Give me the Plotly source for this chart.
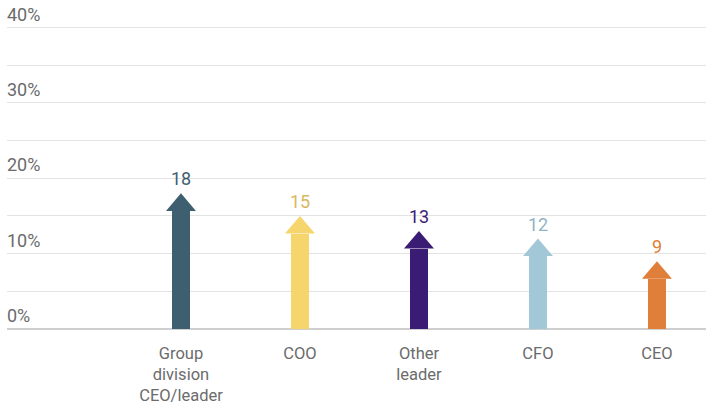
import plotly.graph_objects as go

categories = ["Group<br>division<br>CEO/leader", "COO", "Other<br>leader", "CFO", "CEO"]
values = [18, 15, 13, 12, 9]
arrow_colors = ["#3d5f6f", "#f5d56c", "#3b1c74", "#a2c8d8", "#df7f39"]
label_colors = ["#3d5f6f", "#d8b85c", "#3b1c74", "#8fb3c4", "#df7f39"]
y_ticks = [0, 10, 20, 30, 40]
y_tick_text = ["0%", "10%", "20%", "30%", "40%"]

FONT = "Roboto, Arial, sans-serif"
head_h = 2.33      # arrowhead height in % units
head_half = 0.126  # arrowhead half width in category units
shaft_w = 0.156

xs = list(range(len(categories)))

fig = go.Figure()
fig.add_trace(go.Bar(
    x=xs, y=[v - head_h for v in values], width=shaft_w,
    marker=dict(color=arrow_colors, line=dict(width=0)),
    hoverinfo="skip", showlegend=False,
))
for i, v in enumerate(values):
    fig.add_trace(go.Scatter(
        x=[i - head_half, i, i + head_half, i - head_half],
        y=[v - head_h, v, v - head_h, v - head_h],
        fill="toself", fillcolor=arrow_colors[i], mode="lines",
        line=dict(width=0, color=arrow_colors[i]),
        hoverinfo="skip", showlegend=False,
    ))
    fig.add_annotation(
        x=i, y=v, text=str(v), showarrow=False, yanchor="bottom", yshift=2,
        font=dict(family=FONT, size=18, color=label_colors[i]),
    )

for t, txt in zip(y_ticks, y_tick_text):
    fig.add_annotation(
        xref="paper", x=0, y=t, text=txt, showarrow=False,
        xanchor="left", yanchor="bottom", yshift=1, xshift=-2,
        font=dict(family=FONT, size=18, color="#6b6b6b"),
    )

fig.update_layout(
    width=706, height=410,
    margin=dict(l=7, r=0, t=20, b=81, autoexpand=False),
    plot_bgcolor="white", paper_bgcolor="white",
    font=dict(family=FONT, size=18, color="#6b6b6b"),
    bargap=0,
)
fig.update_xaxes(
    range=[-1.462, 4.412], tickvals=xs, ticktext=categories,
    showgrid=False, zeroline=False, showline=False, ticks="",
    ticklabelstandoff=12,
    automargin=False,
    tickfont=dict(family=FONT, size=16.5, color="#6b6b6b"),
)
fig.update_yaxes(
    range=[0, 41], tickvals=[0, 5, 10, 15, 20, 25, 30, 35, 40], showticklabels=False,
    showgrid=True, gridcolor="#e3e3e3", gridwidth=1,
    zeroline=True, zerolinecolor="#cfcfcf", zerolinewidth=2,
    showline=False, ticks="", automargin=False,
)

fig.write_html("out.html", config={"displayModeBar": False},
               post_script="document.body.style.margin='0px';")
